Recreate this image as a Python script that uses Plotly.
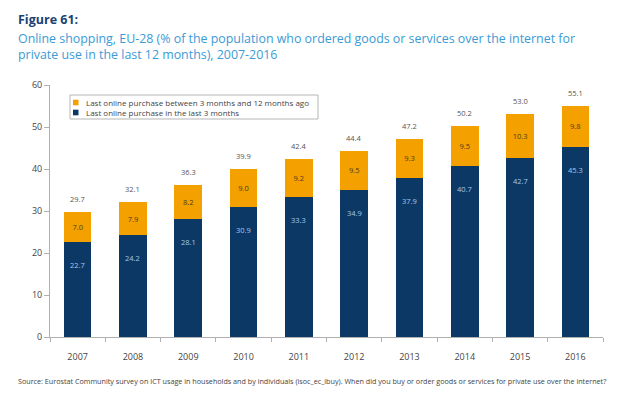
import plotly.graph_objects as go

years = [2007, 2008, 2009, 2010, 2011, 2012, 2013, 2014, 2015, 2016]
last_3_months = [22.7, 24.2, 28.1, 30.9, 33.3, 34.9, 37.9, 40.7, 42.7, 45.3]
between_3_12 = [7.0, 7.9, 8.2, 9.0, 9.2, 9.5, 9.3, 9.5, 10.3, 9.8]
totals = [29.7, 32.1, 36.3, 39.9, 42.4, 44.4, 47.2, 50.2, 53.0, 55.1]
series_names = ["Last online purchase between 3 months and 12 months ago",
                "Last online purchase in the last 3 months"]

NAVY = "#0c3866"
ORANGE = "#f4a100"
FONT = "Open Sans"

W, H = 620, 406
ML, MR, MT, MB = 50, 17, 85, 69
pw, ph = W - ML - MR, H - MT - MB


def px(x):
    return (x - ML) / pw


def py(y):
    return (H - MB - y) / ph


fig = go.Figure()
fig.add_trace(go.Bar(
    x=years, y=last_3_months, name=series_names[1],
    marker=dict(color=NAVY, line=dict(width=0)), width=0.5, showlegend=False,
))
fig.add_trace(go.Bar(
    x=years, y=between_3_12, name=series_names[0],
    marker=dict(color=ORANGE, line=dict(width=0)), width=0.5, showlegend=False,
    text=[f"{v:.1f}" for v in between_3_12], textposition="inside",
    insidetextanchor="middle", textangle=0,
    textfont=dict(family=FONT, size=7.5, color="#4a3d1e"),
))

for yr, v in zip(years, last_3_months):
    fig.add_annotation(x=yr, y=v, xref="x", yref="y", text=f"{v:.1f}", showarrow=False,
                       yshift=-23, font=dict(family=FONT, size=7.5, color="#a6c8e8"))
for yr, v in zip(years, totals):
    fig.add_annotation(x=yr, y=v, xref="x", yref="y", text=f"{v:.1f}", showarrow=False,
                       yshift=13, font=dict(family=FONT, size=7.5, color="#555555"))

# header and source
fig.add_annotation(x=px(16), y=py(19), xref="paper", yref="paper", text="<b>Figure 61:</b>",
                   showarrow=False, xanchor="left", yanchor="middle",
                   font=dict(family=FONT, size=12.5, color="#1b3f73"))
fig.add_annotation(x=px(16), y=py(38), xref="paper", yref="paper",
                   text="Online shopping, EU-28 (% of the population who ordered goods or services over the internet for",
                   showarrow=False, xanchor="left", yanchor="middle",
                   font=dict(family=FONT, size=12.4, color="#3a9ad6"))
fig.add_annotation(x=px(16), y=py(55), xref="paper", yref="paper",
                   text="private use in the last 12 months), 2007-2016",
                   showarrow=False, xanchor="left", yanchor="middle",
                   font=dict(family=FONT, size=12.4, color="#3a9ad6"))
fig.add_annotation(x=px(16), y=py(381), xref="paper", yref="paper",
                   text="Source: Eurostat Community survey on ICT usage in households and by individuals (isoc_ec_ibuy). When did you buy or order goods or services for private use over the internet?",
                   showarrow=False, xanchor="left", yanchor="middle",
                   font=dict(family=FONT, size=7.2, color="#444444"))

# compact legend
shapes = [dict(type="rect", xref="paper", yref="paper", x0=px(70), x1=px(318), y0=py(119), y1=py(95),
               line=dict(color="#b5b5b5", width=1), fillcolor="white", layer="below")]
for i, (name, col) in enumerate(zip(series_names, [ORANGE, NAVY])):
    yc = 102.5 + 10 * i
    shapes.append(dict(type="rect", xref="paper", yref="paper", x0=px(73), x1=px(78.5),
                       y0=py(yc + 2.8), y1=py(yc - 2.8), line=dict(width=0), fillcolor=col))
    fig.add_annotation(x=px(84), y=py(yc), xref="paper", yref="paper", text=name,
                       showarrow=False, xanchor="left", yanchor="middle",
                       font=dict(family=FONT, size=8, color="#444444"))

fig.update_layout(
    width=W, height=H, barmode="stack", shapes=shapes,
    margin=dict(l=ML, r=MR, t=MT, b=MB),
    paper_bgcolor="white", plot_bgcolor="white",
    font=dict(family=FONT, size=8, color="#444444"),
    showlegend=False,
    xaxis=dict(type="linear", range=[2006.5, 2016.5], tick0=2007, dtick=1,
               showline=True, linecolor="#b0b0b0", linewidth=1,
               ticks="outside", ticklen=11, tickcolor="rgba(0,0,0,0)",
               minor=dict(ticks="outside", tick0=2006.5, dtick=1, ticklen=4, tickcolor="#b0b0b0",
                          showgrid=False),
               tickfont=dict(family=FONT, size=9, color="#444444"), showgrid=False, zeroline=False),
    yaxis=dict(range=[0, 60], dtick=10, showline=True, linecolor="#b0b0b0", linewidth=1,
               ticks="outside", ticklen=5, tickcolor="#b0b0b0", showgrid=False, zeroline=False,
               tickfont=dict(family=FONT, size=9, color="#444444")),
)

fig.write_html("out.html", config={"displayModeBar": False},
               post_script="document.body.style.margin='0';document.body.style.overflow='hidden';")
